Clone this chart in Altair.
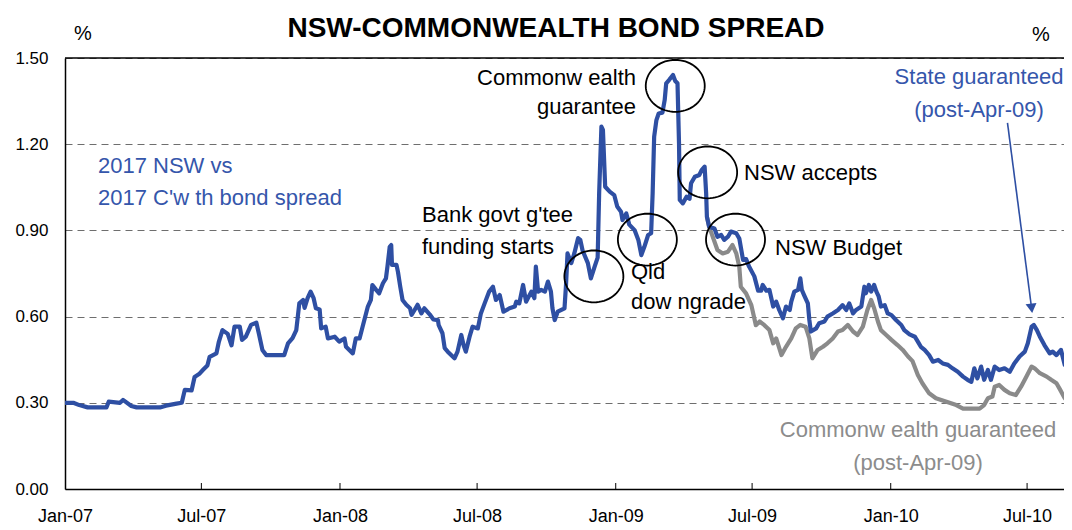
import math
import altair as alt
import pandas as pd

FONT = "Liberation Sans"
BLUE = "#2E4FA3"
BLUE_TXT = "#3556AB"
GREY = "#8A8A8A"
GREY_TXT = "#8C8C8C"

# ---- NSW 2017 vs C'wth 2017 bond spread (%) ----
nsw_dates = [
    "2007-01-01", "2007-01-12", "2007-01-20", "2007-01-31", "2007-02-25", "2007-02-28", "2007-03-15", "2007-03-19",
    "2007-03-30", "2007-04-06", "2007-05-07", "2007-05-15", "2007-05-29", "2007-06-05", "2007-06-09", "2007-06-18",
    "2007-06-22", "2007-06-28", "2007-07-03", "2007-07-09", "2007-07-12", "2007-07-21", "2007-07-24", "2007-07-29",
    "2007-08-05", "2007-08-10", "2007-08-14", "2007-08-21", "2007-08-24", "2007-08-29", "2007-09-05", "2007-09-12",
    "2007-09-15", "2007-09-20", "2007-09-25", "2007-10-19", "2007-10-24", "2007-10-30", "2007-11-04", "2007-11-08",
    "2007-11-13", "2007-11-15", "2007-11-19", "2007-11-23", "2007-11-27", "2007-11-30", "2007-12-05", "2007-12-07",
    "2007-12-13", "2007-12-16", "2007-12-25", "2007-12-31", "2008-01-07", "2008-01-09", "2008-01-18", "2008-01-22",
    "2008-01-27", "2008-01-31", "2008-02-07", "2008-02-11", "2008-02-13", "2008-02-18", "2008-02-22", "2008-02-27",
    "2008-03-02", "2008-03-04", "2008-03-07", "2008-03-09", "2008-03-10", "2008-03-16", "2008-03-18", "2008-03-21",
    "2008-03-24", "2008-03-29", "2008-04-03", "2008-04-05", "2008-04-09", "2008-04-13", "2008-04-18", "2008-04-22",
    "2008-04-29", "2008-05-04", "2008-05-10", "2008-05-11", "2008-05-16", "2008-05-19", "2008-05-23", "2008-06-01",
    "2008-06-05", "2008-06-10", "2008-06-13", "2008-06-16", "2008-06-21", "2008-06-25", "2008-07-02", "2008-07-06",
    "2008-07-11", "2008-07-17", "2008-07-22", "2008-07-26", "2008-07-31", "2008-08-05", "2008-08-13", "2008-08-20",
    "2008-08-22", "2008-08-26", "2008-08-31", "2008-09-04", "2008-09-11", "2008-09-15", "2008-09-17", "2008-09-20",
    "2008-09-24", "2008-09-29", "2008-10-03", "2008-10-07", "2008-10-09", "2008-10-12", "2008-10-16", "2008-10-25",
    "2008-10-27", "2008-10-29", "2008-11-03", "2008-11-07", "2008-11-12", "2008-11-15", "2008-11-18", "2008-11-25",
    "2008-11-29", "2008-12-04", "2008-12-08", "2008-12-10", "2008-12-13", "2008-12-15", "2008-12-18", "2008-12-24",
    "2008-12-30", "2009-01-03", "2009-01-08", "2009-01-10", "2009-01-15", "2009-01-19", "2009-01-26", "2009-01-31",
    "2009-02-04", "2009-02-08", "2009-02-13", "2009-02-17", "2009-02-19", "2009-02-21", "2009-02-24", "2009-02-27",
    "2009-03-04", "2009-03-07", "2009-03-09", "2009-03-13", "2009-03-18", "2009-03-21", "2009-03-24", "2009-03-26",
    "2009-03-27", "2009-03-31", "2009-04-05", "2009-04-09", "2009-04-11", "2009-04-16", "2009-04-22", "2009-04-25",
    "2009-04-29", "2009-05-01", "2009-05-02", "2009-05-05", "2009-05-12", "2009-05-16", "2009-05-21", "2009-05-25",
    "2009-05-30", "2009-06-03", "2009-06-10", "2009-06-14", "2009-06-19", "2009-06-23", "2009-06-27", "2009-07-04",
    "2009-07-09", "2009-07-13", "2009-07-15", "2009-07-20", "2009-07-24", "2009-07-29", "2009-08-02", "2009-08-06",
    "2009-08-11", "2009-08-15", "2009-08-20", "2009-08-22", "2009-08-26", "2009-08-31", "2009-09-03", "2009-09-05",
    "2009-09-08", "2009-09-13", "2009-09-15", "2009-09-17", "2009-09-24", "2009-09-28", "2009-10-05", "2009-10-09",
    "2009-10-16", "2009-10-23", "2009-10-29", "2009-11-03", "2009-11-07", "2009-11-12", "2009-11-16", "2009-11-23",
    "2009-11-27", "2009-11-29", "2009-12-03", "2009-12-06", "2009-12-10", "2009-12-13", "2009-12-16", "2009-12-19",
    "2009-12-24", "2009-12-28", "2010-01-02", "2010-01-08", "2010-01-15", "2010-01-19", "2010-01-26", "2010-02-02",
    "2010-02-06", "2010-02-10", "2010-02-15", "2010-02-21", "2010-02-26", "2010-03-05", "2010-03-11", "2010-03-18",
    "2010-03-24", "2010-03-31", "2010-04-07", "2010-04-13", "2010-04-18", "2010-04-22", "2010-04-26", "2010-05-01",
    "2010-05-05", "2010-05-10", "2010-05-14", "2010-05-19", "2010-05-25", "2010-06-01", "2010-06-08", "2010-06-14",
    "2010-06-21", "2010-06-28", "2010-07-02", "2010-07-07", "2010-07-10", "2010-07-14", "2010-07-18", "2010-07-24",
    "2010-07-31", "2010-08-04", "2010-08-09", "2010-08-15", "2010-08-20", "2010-08-26",
]
nsw_values = [
    0.300, 0.300, 0.292, 0.284, 0.284, 0.304, 0.300, 0.310,
    0.289, 0.284, 0.284, 0.290, 0.297, 0.300, 0.345, 0.343,
    0.390, 0.400, 0.414, 0.430, 0.460, 0.472, 0.510, 0.553,
    0.540, 0.500, 0.565, 0.565, 0.519, 0.530, 0.571, 0.579,
    0.545, 0.484, 0.466, 0.466, 0.507, 0.525, 0.553, 0.646,
    0.658, 0.630, 0.664, 0.687, 0.664, 0.629, 0.625, 0.559,
    0.565, 0.524, 0.530, 0.513, 0.524, 0.495, 0.472, 0.524,
    0.524, 0.565, 0.635, 0.658, 0.710, 0.693, 0.681, 0.716,
    0.733, 0.774, 0.843, 0.849, 0.780, 0.780, 0.755, 0.704,
    0.658, 0.641, 0.629, 0.606, 0.623, 0.641, 0.611, 0.629,
    0.608, 0.590, 0.588, 0.570, 0.542, 0.490, 0.478, 0.455,
    0.478, 0.536, 0.501, 0.478, 0.530, 0.565, 0.559, 0.611,
    0.646, 0.687, 0.704, 0.658, 0.675, 0.617, 0.629, 0.635,
    0.652, 0.646, 0.710, 0.652, 0.687, 0.664, 0.774, 0.687,
    0.693, 0.687, 0.722, 0.687, 0.629, 0.588, 0.617, 0.629,
    0.710, 0.820, 0.786, 0.820, 0.873, 0.867, 0.830, 0.786,
    0.733, 0.774, 0.805, 1.030, 1.261, 1.250, 1.052, 1.035,
    1.023, 0.983, 0.965, 0.936, 0.959, 0.920, 0.901, 0.867,
    0.814, 0.843, 0.884, 0.890, 1.030, 1.226, 1.284, 1.307,
    1.310, 1.354, 1.412, 1.424, 1.441, 1.420, 1.412, 1.203,
    1.006, 0.994, 1.017, 1.010, 1.064, 1.087, 1.093, 1.110,
    1.122, 1.030, 0.948, 0.913, 0.907, 0.878, 0.884, 0.867,
    0.878, 0.896, 0.890, 0.872, 0.797, 0.800, 0.774, 0.740,
    0.690, 0.690, 0.710, 0.690, 0.693, 0.635, 0.652, 0.623,
    0.594, 0.635, 0.623, 0.652, 0.687, 0.693, 0.733, 0.693,
    0.675, 0.646, 0.588, 0.548, 0.559, 0.577, 0.583, 0.600,
    0.611, 0.623, 0.640, 0.623, 0.646, 0.611, 0.623, 0.635,
    0.704, 0.681, 0.710, 0.687, 0.710, 0.687, 0.670, 0.635,
    0.640, 0.611, 0.605, 0.588, 0.571, 0.553, 0.538, 0.530,
    0.513, 0.495, 0.484, 0.466, 0.443, 0.449, 0.437, 0.432,
    0.420, 0.408, 0.391, 0.380, 0.373, 0.420, 0.385, 0.426,
    0.380, 0.414, 0.380, 0.426, 0.414, 0.420, 0.408, 0.437,
    0.461, 0.478, 0.507, 0.565, 0.571, 0.553, 0.530, 0.501,
    0.472, 0.478, 0.466, 0.484, 0.432, 0.432,
]

# ---- Commonwealth guaranteed (post-Apr-09) spread (%) ----
cwg_dates = [
    "2009-05-02", "2009-05-05", "2009-05-16", "2009-05-23", "2009-05-30", "2009-06-05", "2009-06-10", "2009-06-14",
    "2009-06-16", "2009-06-23", "2009-06-30", "2009-07-06", "2009-07-11", "2009-07-17", "2009-07-24", "2009-07-29",
    "2009-08-02", "2009-08-09", "2009-08-15", "2009-08-22", "2009-08-28", "2009-09-03", "2009-09-10", "2009-09-15",
    "2009-09-19", "2009-09-26", "2009-10-03", "2009-10-09", "2009-10-16", "2009-10-23", "2009-10-29", "2009-11-05",
    "2009-11-12", "2009-11-18", "2009-11-25", "2009-12-01", "2009-12-06", "2009-12-10", "2009-12-15", "2009-12-19",
    "2009-12-26", "2010-01-02", "2010-01-10", "2010-01-17", "2010-01-24", "2010-01-30", "2010-02-06", "2010-02-12",
    "2010-02-21", "2010-03-02", "2010-03-16", "2010-03-29", "2010-04-07", "2010-04-29", "2010-05-05", "2010-05-10",
    "2010-05-16", "2010-05-19", "2010-05-25", "2010-06-01", "2010-06-08", "2010-06-16", "2010-06-23", "2010-06-30",
    "2010-07-07", "2010-07-11", "2010-07-18", "2010-07-27", "2010-08-02", "2010-08-09", "2010-08-14", "2010-08-20",
    "2010-08-26",
]
cwg_values = [
    0.948, 0.913, 0.832, 0.820, 0.826, 0.849, 0.820, 0.774,
    0.704, 0.681, 0.640, 0.570, 0.583, 0.571, 0.553, 0.507,
    0.524, 0.466, 0.495, 0.524, 0.559, 0.571, 0.565, 0.524,
    0.455, 0.484, 0.495, 0.507, 0.524, 0.548, 0.553, 0.571,
    0.548, 0.536, 0.565, 0.623, 0.658, 0.629, 0.583, 0.553,
    0.536, 0.519, 0.501, 0.484, 0.461, 0.445, 0.397, 0.368,
    0.333, 0.316, 0.304, 0.292, 0.280, 0.280, 0.292, 0.316,
    0.322, 0.356, 0.362, 0.345, 0.333, 0.327, 0.356, 0.391,
    0.426, 0.420, 0.403, 0.391, 0.380, 0.368, 0.345, 0.316,
    0.298,
]

# ---- axes ----
x_tick_years_months = [(2007, 1), (2007, 7), (2008, 1), (2008, 7), (2009, 1), (2009, 7), (2010, 1), (2010, 7)]
y_ticks = [0.0, 0.3, 0.6, 0.9, 1.2, 1.5]

# ---- annotation anchors (events circled on the line) ----
circle_dates = ["2008-12-03", "2009-02-12", "2009-03-21", "2009-05-03", "2009-06-09"]
circle_values = [0.740, 0.868, 1.403, 1.102, 0.868]

arrow_start = ("2010-06-05", 1.274)
arrow_end = ("2010-07-07", 0.629)

# ---------------------------------------------------------------
nsw = pd.DataFrame({"date": pd.to_datetime(nsw_dates), "value": nsw_values})
cwg = pd.DataFrame({"date": pd.to_datetime(cwg_dates), "value": cwg_values})
circles = pd.DataFrame({"date": pd.to_datetime(circle_dates), "value": circle_values})
arrow = pd.DataFrame({
    "date": pd.to_datetime([arrow_start[0]]), "value": [arrow_start[1]],
    "date2": pd.to_datetime([arrow_end[0]]), "value2": [arrow_end[1]],
})
arrow_head = pd.DataFrame({"date": pd.to_datetime([arrow_end[0]]), "value": [arrow_end[1]]})
ticks_df = pd.DataFrame({"date": pd.to_datetime([f"{y}-{m:02d}-01" for y, m in x_tick_years_months[1:]])})

W, H = 999, 431

x_scale = alt.Scale(domain=[alt.DateTime(year=2007, month=1, date=1),
                            alt.DateTime(year=2010, month=8, date=19)])
x_axis = alt.Axis(
    values=[alt.DateTime(year=y, month=m, date=1) for y, m in x_tick_years_months],
    format="%b-%y", labelFont=FONT, labelFontSize=18, labelColor="black",
    labelPadding=18, ticks=False, tickSize=0, domainColor="black", domainWidth=1.5,
    grid=False, labelFlush=False, labelOverlap=False, labelBound=False, title=None,
)
y_scale = alt.Scale(domain=[0, 1.5], nice=False, zero=True)
y_axis = alt.Axis(
    values=y_ticks, format=".2f", labelFont=FONT, labelFontSize=17, labelColor="black",
    labelPadding=17, ticks=False, tickSize=0, domainColor="black", domainWidth=1.5,
    grid=True, gridColor="#6E6E6E", gridDash=[7, 5], gridWidth=1, title=None,
)


def X(field):
    return alt.X(field, type="temporal", scale=x_scale, axis=x_axis, title=None)


def Y(field):
    return alt.Y(field, type="quantitative", scale=y_scale, axis=y_axis, title=None)


cwg_line = alt.Chart(cwg).mark_line(color=GREY, strokeWidth=4.2, clip=True, strokeJoin="round").encode(
    x=X("date"), y=Y("value"))
nsw_line = alt.Chart(nsw).mark_line(color=BLUE, strokeWidth=4.2, clip=True, strokeJoin="round").encode(
    x=X("date"), y=Y("value"))

top_border = alt.Chart(alt.Data(values=[{}])).mark_rule(color="black", strokeWidth=1.5).encode(
    y=alt.value(0))
x_ticks = alt.Chart(ticks_df).mark_rule(color="black", strokeWidth=1).encode(
    x=X("date"), y=alt.value(H), y2=alt.value(H - 6))

# ellipse outline as a custom symbol (unit path, scaled by size)
n = 72
ry = 0.88
pts = [f"{math.cos(2 * math.pi * i / n):.4f},{ry * math.sin(2 * math.pi * i / n):.4f}" for i in range(n)]
ellipse_path = "M" + " L".join(pts) + " Z"

ellipses = alt.Chart(circles).mark_point(
    shape=ellipse_path, size=59 ** 2, filled=False, color="black", strokeWidth=1.8, opacity=1
).encode(x=X("date"), y=Y("value"))

arrow_line = alt.Chart(arrow).mark_rule(color=BLUE, strokeWidth=1.6).encode(
    x=X("date"), y=Y("value"), x2="date2", y2="value2")
arrow_tip = alt.Chart(arrow_head).mark_point(
    shape="triangle-down", size=120, filled=True, color=BLUE, opacity=1, angle=353
).encode(x=X("date"), y=Y("value"))


def label(lines, x, y, color="black", align="left", size=22, weight="normal", lh=31):
    # y is the centre of the first line
    return alt.Chart(alt.Data(values=[{}])).mark_text(
        text=lines, align=align, baseline="middle", font=FONT, fontSize=size,
        color=color, lineHeight=lh, fontWeight=weight,
    ).encode(x=alt.value(x), y=alt.value(y))


texts = [
    label("NSW-COMMONWEALTH BOND SPREAD", 491, -29, align="center", size=28, weight="bold"),
    label("%", 18, -24, align="center", size=20),
    label("%", 976, -23, align="center", size=20),
    label(["Commonw ealth", "guarantee"], 571, 20, align="right", lh=29),
    label(["Bank govt g'tee", "funding starts"], 357, 157, lh=32),
    label(["Qld", "dow ngrade"], 566, 214, lh=30),
    label("NSW accepts", 679, 115),
    label("NSW Budget", 710, 190),
    label(["2017 NSW vs", "2017 C'w th bond spread"], 33, 108, color=BLUE_TXT, lh=32),
    label(["State guaranteed", "(post-Apr-09)"], 914, 19, color=BLUE_TXT, align="center", lh=33),
    label(["Commonw ealth guaranteed", "(post-Apr-09)"], 853, 372, color=GREY_TXT, align="center", lh=33),
]

chart = alt.layer(
    cwg_line, nsw_line, top_border, x_ticks, ellipses, arrow_line, arrow_tip, *texts
).properties(
    width=W, height=H,
    padding={"left": 57, "top": 50, "right": 0, "bottom": 40},
    autosize=alt.AutoSizeParams(type="none"),
    background="white",
).configure_view(stroke=None)

chart.save("out.html", embed_options={"renderer": "svg", "actions": False})
